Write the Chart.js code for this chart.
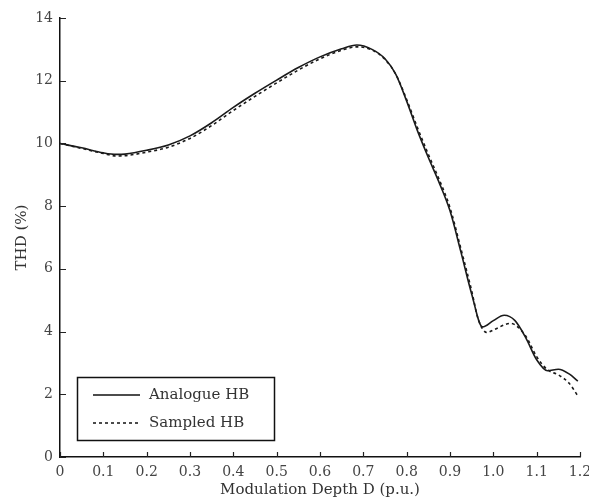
<!DOCTYPE html>
<html>
<head>
<meta charset="utf-8">
<script src="https://cdn.jsdelivr.net/npm/chart.js@4.4.1/dist/chart.umd.min.js"></script>
<style>
  html, body { margin: 0; padding: 0; background: #fff; }
  #wrap { width: 589px; height: 504px; position: relative; }
</style>
</head>
<body>
<div id="wrap"><canvas id="thd"></canvas></div>
<script>
// Values
const depthAnalogue = [0, 0.05, 0.1, 0.13, 0.15, 0.2, 0.25, 0.3, 0.35, 0.4, 0.45, 0.5, 0.55, 0.6, 0.65, 0.685, 0.72, 0.75, 0.775, 0.8, 0.825, 0.85, 0.875, 0.9, 0.925, 0.95, 0.975, 1.0, 1.025, 1.05, 1.075, 1.1, 1.125, 1.15, 1.175, 1.195];
const thdAnalogue   = [10.0, 9.86, 9.70, 9.65, 9.66, 9.78, 9.95, 10.24, 10.66, 11.15, 11.6, 12.02, 12.42, 12.76, 13.02, 13.14, 13.0, 12.7, 12.2, 11.35, 10.4, 9.55, 8.75, 7.85, 6.55, 5.2, 4.15, 4.35, 4.52, 4.35, 3.8, 3.1, 2.75, 2.8, 2.65, 2.42];

const depthSampled = [0, 0.05, 0.1, 0.13, 0.15, 0.2, 0.25, 0.3, 0.35, 0.4, 0.45, 0.5, 0.55, 0.6, 0.65, 0.685, 0.72, 0.75, 0.775, 0.8, 0.825, 0.85, 0.875, 0.9, 0.925, 0.95, 0.965, 0.985, 1.0, 1.04, 1.075, 1.1, 1.125, 1.15, 1.175, 1.195];
const thdSampled   = [10.0, 9.84, 9.68, 9.6, 9.61, 9.72, 9.88, 10.16, 10.57, 11.05, 11.5, 11.93, 12.34, 12.7, 12.97, 13.08, 12.98, 12.68, 12.2, 11.4, 10.5, 9.65, 8.85, 7.95, 6.65, 5.3, 4.4, 3.97, 4.05, 4.26, 3.85, 3.2, 2.78, 2.62, 2.35, 1.95];

const seriesNames = ['Analogue HB', 'Sampled HB'];
const xTitle = 'Modulation Depth D (p.u.)';
const yTitle = 'THD (%)';

const toPoints = (xs, ys) => xs.map((x, i) => ({ x: x, y: ys[i] }));

const FONT = 'DejaVu Serif';

// inward tick marks + boxed legend inside the plot
const decor = {
  id: 'decor',
  afterDraw(chart) {
    const ctx = chart.ctx;
    const xs = chart.scales.x, ys = chart.scales.y;
    ctx.save();
    ctx.strokeStyle = '#222';
    ctx.lineWidth = 1.2;
    ctx.beginPath();
    xs.ticks.forEach(t => {
      const px = Math.round(xs.getPixelForValue(t.value)) + 0.5;
      ctx.moveTo(px, ys.bottom);
      ctx.lineTo(px, ys.bottom - 5);
    });
    ys.ticks.forEach(t => {
      const py = Math.round(ys.getPixelForValue(t.value)) + 0.5;
      ctx.moveTo(xs.left, py);
      ctx.lineTo(xs.left + 6, py);
    });
    ctx.stroke();

    // legend box
    const bx = 77, by = 377, bw = 197, bh = 63;
    ctx.lineWidth = 1.5;
    ctx.strokeStyle = '#111';
    ctx.fillStyle = '#fff';
    ctx.fillRect(bx, by, bw, bh);
    ctx.strokeRect(bx + 0.5, by + 0.5, bw, bh);
    const rows = [by + 18, by + 46];
    chart.data.datasets.forEach((ds, i) => {
      ctx.beginPath();
      ctx.setLineDash(ds.borderDash || []);
      ctx.lineWidth = 1.5;
      ctx.strokeStyle = '#111';
      ctx.moveTo(bx + 16, rows[i]);
      ctx.lineTo(bx + 63, rows[i]);
      ctx.stroke();
      ctx.setLineDash([]);
      ctx.fillStyle = '#333';
      ctx.font = '15px "' + FONT + '"';
      ctx.textBaseline = 'middle';
      ctx.fillText(ds.label, bx + 72, rows[i]);
    });
    ctx.restore();
  }
};

new Chart(document.getElementById('thd'), {
  type: 'line',
  data: {
    datasets: [
      {
        label: seriesNames[0],
        data: toPoints(depthAnalogue, thdAnalogue),
        borderColor: '#1a1a1a',
        borderWidth: 1.6,
        pointRadius: 0,
        cubicInterpolationMode: 'monotone',
        fill: false
      },
      {
        label: seriesNames[1],
        data: toPoints(depthSampled, thdSampled),
        borderColor: '#1a1a1a',
        borderWidth: 1.6,
        borderDash: [3, 3],
        pointRadius: 0,
        cubicInterpolationMode: 'monotone',
        fill: false
      }
    ]
  },
  options: {
    responsive: true,
    maintainAspectRatio: false,
    animation: false,
    layout: { padding: { left: 0, right: 9, top: 18, bottom: 0 } },
    plugins: {
      legend: { display: false },
      tooltip: { enabled: false }
    },
    scales: {
      x: {
        type: 'linear',
        min: 0,
        max: 1.2,
        grid: { display: false, drawTicks: false },
        border: { display: true, color: '#111', width: 1.5 },
        ticks: {
          stepSize: 0.1,
          padding: 7,
          maxRotation: 0,
          autoSkip: false,
          color: '#444',
          font: { family: FONT, size: 14 }
        },
        title: {
          display: true,
          text: xTitle,
          color: '#333',
          font: { family: FONT, size: 15 },
          padding: { top: 0, bottom: 5 }
        },
        afterFit(scale) {
          scale.height = 47;
          scale.paddingLeft = 0;
          scale.paddingRight = 0;
        }
      },
      y: {
        min: 0,
        max: 14,
        grid: { display: false, drawTicks: false },
        border: { display: true, color: '#111', width: 1.5 },
        ticks: {
          stepSize: 2,
          padding: 7,
          color: '#444',
          font: { family: FONT, size: 14 }
        },
        title: {
          display: true,
          text: yTitle,
          color: '#333',
          font: { family: FONT, size: 15 },
          padding: { top: 13, bottom: 0 }
        },
        afterFit(scale) {
          scale.width = 60;
          scale.paddingTop = 0;
          scale.paddingBottom = 0;
        }
      }
    }
  },
  plugins: [decor]
});
</script>
</body>
</html>
